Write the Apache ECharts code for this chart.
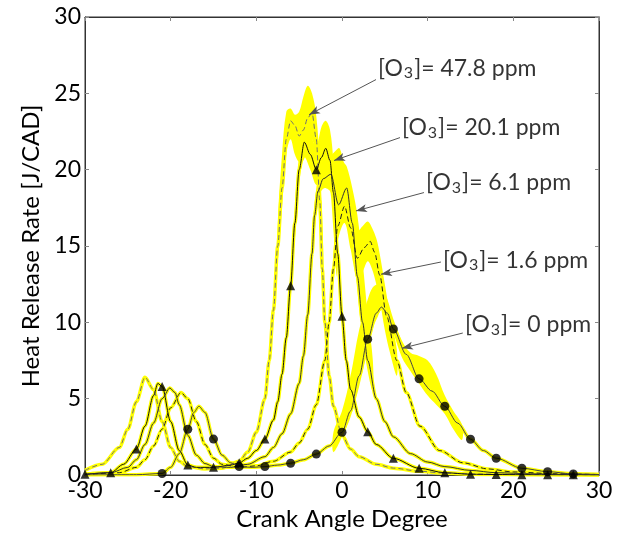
<!DOCTYPE html>
<html>
<head>
<meta charset="utf-8">
<script src="https://cdn.jsdelivr.net/npm/echarts@6/dist/echarts.min.js"></script>
<style>
  html, body { margin: 0; padding: 0; background: #fff; }
  #chart { width: 625px; height: 534px; }
</style>
</head>
<body>
<div id="chart"></div>
<script>
// Heat release rate vs crank angle for five ozone seedings.
// Mean traces (black) with the cycle-to-cycle range (yellow).

// [O3] = 47.8 ppm
const cad478 = [-30,-28,-26,-25,-24,-23,-22,-21,-20,-19,-18,-16,-14,-12,-11,-10,-9,-8.5,-8,-7.5,-7,-6.5,-6,-5.5,-5,-4.5,-4,-3.5,-3,-2.6,-2.3,-2,-1.5,-1,0,1,2,4,6,9,12,16,22,30];
const hrr478 = [0.3,0.7,1.8,3.0,4.8,6.4,5.6,3.5,1.8,0.9,0.55,0.4,0.45,0.9,1.5,2.8,5.0,7.5,10.8,15.0,18.8,22.0,23.2,22.9,22.2,22.6,23.4,23.7,22.0,18.0,13.5,10.0,6.5,4.5,2.6,1.7,1.2,0.7,0.45,0.25,0.12,0.06,0.03,0.01];

// [O3] = 20.1 ppm
const cad201 = [-30,-27,-25.5,-24,-23,-22,-21.5,-21,-20,-19,-18,-17,-15,-13,-12,-11,-10,-9,-8,-7.5,-7,-6.5,-6,-5.5,-5,-4.4,-3.7,-3,-2.4,-1.9,-1.4,-1,-0.5,0,0.5,1,2,3,4,6,9,12,15,18,21,24,27,30];
const hrr201 = [0.05,0.15,0.7,1.7,3.2,5.2,6.0,5.8,3.5,1.6,0.65,0.5,0.5,0.65,0.8,1.1,1.6,2.35,3.6,4.8,6.6,9.0,12.4,16.5,20.0,21.8,21.0,20.0,20.8,21.4,20.6,18.5,14.5,10.4,7.5,5.6,3.8,2.84,2.0,1.09,0.44,0.15,0.05,0.03,0.02,0.01,0.01,0.0];

// [O3] = 6.1 ppm
const cad61 = [-30,-27,-25,-24,-23,-22,-21,-20.1,-19.5,-19,-18,-17,-16,-15,-13,-11,-9,-8,-7,-6,-5,-4.5,-4,-3.5,-3.2,-2.8,-2.2,-1.3,-0.4,0.55,1.2,1.8,2.4,3,4,5,6,8,10,12,15,18,22,26,30];
const hrr61 = [0.05,0.15,0.5,1.0,2.0,3.4,5.0,5.7,5.4,4.6,2.6,1.3,0.75,0.55,0.5,0.7,1.2,1.8,2.7,4.0,6.0,7.8,10.5,14.5,17.0,18.6,19.4,19.7,17.7,18.8,16.5,13.0,10.0,7.5,5.0,3.5,2.5,1.4,0.85,0.55,0.3,0.15,0.08,0.04,0.02];

// [O3] = 1.6 ppm
const cad16 = [-30,-26,-24,-23,-22,-21,-20,-18.8,-18,-17,-16,-15,-14,-12,-10,-8,-6,-5,-4,-3,-2,-1.5,-1,-0.5,0.3,1.0,1.8,2.6,3.3,3.8,4.4,5.2,6.4,7.5,9.1,11.4,14.1,17,20,25,30];
const hrr16 = [0.02,0.15,0.5,1.0,1.9,3.0,4.4,5.4,5.0,3.5,2.0,1.1,0.7,0.5,0.6,0.9,1.5,2.1,3.0,4.6,7.5,10.0,13.5,16.3,17.6,16.2,14.2,14.9,15.3,14.6,13.1,10.4,7.5,5.4,3.2,1.6,0.8,0.4,0.2,0.08,0.03];

// [O3] = 0 ppm
const cad0 = [-30,-24,-21,-20,-19,-18,-17.3,-16.7,-16,-15,-14,-13,-12,-10.5,-9,-7.5,-6,-4.5,-3,-1.5,0,1,2,3,4,4.6,5.3,6,7.5,9,10.5,12,13.5,15,16.5,18,21,24,27,30];
const hrr0 = [0.0,0.02,0.1,0.5,1.4,3.0,4.1,4.5,4.1,2.35,1.3,0.8,0.55,0.5,0.55,0.65,0.77,1.0,1.37,1.9,2.8,4.2,6.5,8.9,10.6,11.0,10.6,9.56,7.9,6.3,5.5,4.5,3.4,2.34,1.6,1.1,0.44,0.22,0.07,0.03];

// Marker samples (every 3 CAD)
const triCad = [-30,-27,-24,-21,-18,-15,-12,-9,-6,-3,0,3,6,9,12,15,18,21,24,27];
const triHrr = [0.05,0.15,1.7,5.8,0.65,0.5,0.8,2.35,12.4,20.0,10.4,2.84,1.09,0.44,0.15,0.05,0.03,0.02,0.01,0.01];
const dotCad = [-21,-18,-15,-12,-9,-6,-3,0,3,6,9,12,15,18,21,24,27];
const dotHrr = [0.1,3.0,2.35,0.55,0.55,0.77,1.37,2.8,8.9,9.56,6.3,4.5,2.34,1.1,0.44,0.22,0.07];

// Cycle-to-cycle spread around the main heat release
const bandCad478 = [-7.5,-7,-6.5,-6,-5.5,-5,-4.5,-4,-3.5,-3,-2.6,-2.2];
const bandHi478  = [16.5,21.0,23.8,24.0,23.6,23.8,24.8,25.5,25.0,23.5,20.5,15.0];
const bandLo478  = [14.0,17.5,21.0,22.0,21.0,20.5,20.6,21.5,22.0,20.5,16.0,12.0];

const bandCad201 = [-5.5,-5,-4.4,-3.7,-3,-2.4,-1.9,-1.4,-1,-0.6];
const bandHi201  = [17.5,21.0,22.8,22.3,21.5,22.8,23.2,22.6,20.5,17.0];
const bandLo201  = [15.5,19.0,20.8,20.0,19.0,19.5,19.8,18.8,16.0,13.0];

const bandCad61 = [-3.5,-3,-2.5,-2,-1.3,-0.8,-0.3,0.2,0.55,1.2,1.8,2.4,3,3.6];
const bandHi61  = [15.5,18.8,19.9,20.4,20.9,21.2,21.4,20.5,20.2,18.8,17.0,14.0,10.5,7.5];
const bandLo61  = [13.5,17.0,18.5,18.8,18.5,17.0,16.5,17.3,17.8,15.5,12.0,9.0,6.8,5.5];

const bandCad16 = [-1,-0.5,0.3,1.0,1.8,2.4,3.0,3.5,4.0,4.4,5.0,5.6,6.4];
const bandHi16  = [14.5,17.2,18.3,17.5,16.0,16.3,16.6,16.2,15.5,14.5,12.5,10.5,8.2];
const bandLo16  = [12.5,15.3,16.5,14.8,12.8,13.3,14.0,13.5,12.5,11.5,9.5,8.0,6.5];

const bandCad0 = [-1,0,1,2,3,3.6,4.2,4.6,5.3,6,7,8,9,10,11,12,13,14];
const bandHi0  = [2.8,4.2,6.5,9.5,11.5,12.3,12.5,12.3,11.5,10.2,8.8,8.0,7.8,7.5,6.6,5.2,4.2,3.3];
const bandLo0  = [1.5,2.5,3.8,5.8,8.2,9.6,10.4,10.8,10.3,9.3,7.7,6.8,6.0,5.2,4.6,4.0,3.0,2.3];

// Annotation: label text, label anchor, arrow tail, arrow tip (data coords)
const noteText = ['47.8', '20.1', '6.1', '1.6', '0'];
const noteAt   = [[4.2,26.6],[7.0,22.7],[9.8,19.1],[11.8,14.0],[14.35,9.8]];
const noteTail = [[3.97,25.9],[6.77,22.1],[9.57,18.5],[11.55,13.95],[14.1,9.3]];
const noteTip  = [[-3.85,23.6],[-0.93,20.6],[1.63,17.3],[4.55,13.15],[7.0,8.3]];

const xTicks = [-30,-20,-10,0,10,20,30];
const yTicks = [0,5,10,15,20,25,30];

const FONT = 'Lato';
const INK = '#000';
const YEL = '#ffff00';

const zip = (a, b) => a.map((v, i) => [v, b[i]]);

const traces = [
  { x: cad478, y: hrr478, color: '#6f6f6f', type: [5, 3] },
  { x: cad201, y: hrr201, color: '#111111', type: 'solid' },
  { x: cad61,  y: hrr61,  color: '#333333', type: 'solid' },
  { x: cad16,  y: hrr16,  color: '#222222', type: [5, 3] },
  { x: cad0,   y: hrr0,   color: '#444444', type: 'solid' }
];
const bands = [
  [bandCad478, bandLo478, bandHi478],
  [bandCad201, bandLo201, bandHi201],
  [bandCad61, bandLo61, bandHi61],
  [bandCad16, bandLo16, bandHi16],
  [bandCad0, bandLo0, bandHi0]
];

const series = [];

bands.forEach(([cx, lo, hi]) => {
  series.push({
    type: 'custom',
    silent: true,
    z: 1,
    clip: true,
    data: cx.map((v, i) => [v, lo[i], hi[i]]),
    encode: { x: 0, y: [1, 2] },
    renderItem: (params, api) => {
      if (params.dataIndex !== 0) return null;
      const up = cx.map((v, i) => api.coord([v, hi[i]]));
      const dn = cx.map((v, i) => api.coord([v, lo[i]])).reverse();
      return {
        type: 'polygon',
        shape: { points: up.concat(dn), smooth: 0.35 },
        style: { fill: YEL, stroke: null }
      };
    }
  });
});

traces.forEach(t => {
  series.push({
    type: 'line', data: zip(t.x, t.y), smooth: 0.3, smoothMonotone: 'x',
    showSymbol: false, silent: true, z: 2,
    lineStyle: { color: YEL, width: 3.5 }
  });
});
traces.forEach(t => {
  series.push({
    type: 'line', data: zip(t.x, t.y), smooth: 0.3, smoothMonotone: 'x',
    showSymbol: false, silent: true, z: 3,
    lineStyle: { color: t.color, width: 1, type: t.type }
  });
});

series.push({
  type: 'scatter', data: zip(triCad, triHrr), symbol: 'triangle', symbolSize: 9,
  itemStyle: { color: '#000' }, z: 4, silent: true
});
series.push({
  type: 'scatter', data: zip(dotCad, dotHrr), symbol: 'circle', symbolSize: 9,
  itemStyle: { color: '#000' }, z: 4, silent: true
});

// Labels with leader arrows
series.push({
  type: 'scatter', symbolSize: 0, silent: true, z: 6,
  data: noteAt.map((p, i) => ({ value: p, name: noteText[i] })),
  label: {
    show: true, position: 'right', distance: 0,
    formatter: p => '{t|[O}{s|3}{t|]= ' + p.name + ' ppm}',
    rich: {
      t: { fontFamily: FONT, fontSize: 23, color: INK, lineHeight: 24, verticalAlign: 'top' },
      s: { fontFamily: FONT, fontSize: 16, color: INK, lineHeight: 16, verticalAlign: 'bottom', padding: [16, 1, 0, 1] }
    }
  },
  markLine: {
    silent: true, symbol: ['none', 'arrow'], symbolSize: [6, 11],
    lineStyle: { color: '#555', width: 1, type: 'solid' },
    label: { show: false },
    data: noteTail.map((p, i) => [{ coord: p }, { coord: noteTip[i] }])
  }
});

const axisLbl = { fontFamily: FONT, fontSize: 23, color: INK };
const titleStyle = { fontFamily: FONT, fontSize: 24, color: INK };

const option = {
  animation: false,
  backgroundColor: '#fff',
  grid: {
    left: 85, right: 26, top: 17, bottom: 59, outerBoundsMode: 'none',
    show: true, borderColor: '#333', borderWidth: 1
  },
  xAxis: [{
    type: 'value', min: -30, max: 30, interval: 10,
    name: 'Crank Angle Degree', nameLocation: 'middle', nameGap: 27,
    nameTextStyle: titleStyle,
    axisLine: { show: true, onZero: false, lineStyle: { color: '#333' } },
    axisTick: { inside: true, length: 4, lineStyle: { color: '#888' } },
    axisLabel: Object.assign({ margin: 4, formatter: v => xTicks.includes(v) ? String(v) : '' }, axisLbl),
    splitLine: { show: false }
  }, {
    type: 'value', min: -30, max: 30, interval: 10, position: 'top',
    axisLine: { show: true, onZero: false, lineStyle: { color: '#333' } },
    axisTick: { inside: true, length: 4, lineStyle: { color: '#888' } },
    axisLabel: { show: false }, splitLine: { show: false }
  }],
  yAxis: [{
    type: 'value', min: 0, max: 30, interval: 5,
    name: 'Heat Release Rate [J/CAD]', nameLocation: 'middle', nameGap: 32,
    nameTextStyle: titleStyle,
    axisLine: { show: true, onZero: false, lineStyle: { color: '#333' } },
    axisTick: { inside: true, length: 4, lineStyle: { color: '#888' } },
    axisLabel: Object.assign({ margin: 4, formatter: v => yTicks.includes(v) ? String(v) : '' }, axisLbl),
    splitLine: { show: false }
  }, {
    type: 'value', min: 0, max: 30, interval: 5, position: 'right',
    axisLine: { show: true, onZero: false, lineStyle: { color: '#333' } },
    axisTick: { inside: true, length: 4, lineStyle: { color: '#888' } },
    axisLabel: { show: false }, splitLine: { show: false }
  }],
  series: series
};

const chart = echarts.init(document.getElementById('chart'), null, { renderer: 'canvas' });
chart.setOption(option);
</script>
</body>
</html>
